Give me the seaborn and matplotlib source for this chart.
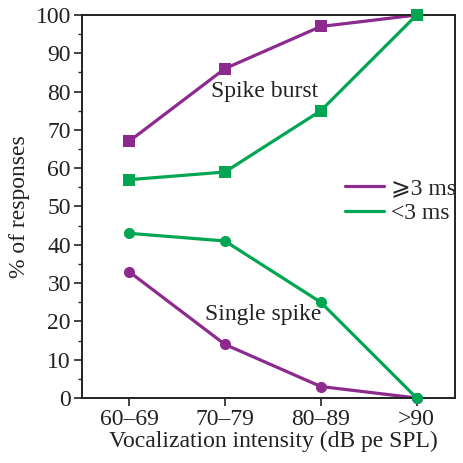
import matplotlib
matplotlib.use("Agg")
import matplotlib.pyplot as plt
import seaborn as sns
import pandas as pd
from matplotlib.ticker import MultipleLocator
from matplotlib.lines import Line2D

categories = ["60–69", "70–79", "80–89", ">90"]
burst_long = [67, 86, 97, 100]    # >=3 ms, spike burst
burst_short = [57, 59, 75, 100]   # <3 ms, spike burst
single_long = [33, 14, 3, 0]      # >=3 ms, single spike
single_short = [43, 41, 25, 0]    # <3 ms, single spike
labels = ["⩾3 ms", "<3 ms"]

sns.set_style("ticks")
plt.rcParams["font.family"] = ["Liberation Serif", "DejaVu Sans"]

purple = "#8C2A8E"
green = "#00A651"
txt = "#222222"
FS = 17

rows = []
for i, c in enumerate(categories):
    rows.append(dict(x=i, y=burst_long[i], dur=labels[0], kind="burst"))
    rows.append(dict(x=i, y=burst_short[i], dur=labels[1], kind="burst"))
    rows.append(dict(x=i, y=single_long[i], dur=labels[0], kind="single"))
    rows.append(dict(x=i, y=single_short[i], dur=labels[1], kind="single"))
df = pd.DataFrame(rows)

fig = plt.figure(figsize=(4.64, 4.63), dpi=100)
ax = fig.add_axes([0.1767, 0.1404, 0.8039, 0.8272])

palette = {labels[0]: purple, labels[1]: green}
for kind, marker in [("burst", "s"), ("single", "o")]:
    for dur in labels:
        sub = df[(df.kind == kind) & (df.dur == dur)]
        sns.lineplot(data=sub, x="x", y="y", color=palette[dur], marker=marker,
                     markersize=8, markeredgewidth=0, linewidth=2.3, ax=ax,
                     clip_on=False, zorder=3 if dur == labels[1] else 2,
                     legend=False)

ax.set_xlim(-0.49, 3.40)
ax.set_ylim(0, 100)
ax.set_xticks(range(len(categories)))
ax.set_xticklabels(categories)
ax.yaxis.set_major_locator(MultipleLocator(10))
ax.yaxis.set_minor_locator(MultipleLocator(5))
ax.tick_params(axis="both", which="major", labelsize=FS, length=6, width=1.2,
               direction="out", colors=txt, pad=2)
ax.tick_params(axis="y", which="minor", length=3, width=1.0, direction="out", colors=txt)
for s in ax.spines.values():
    s.set_linewidth(1.4)
    s.set_color(txt)
    s.set_visible(True)

ax.set_xlabel("Vocalization intensity (dB pe SPL)", fontsize=FS, color=txt, labelpad=3)
ax.xaxis.set_label_coords(0.514, -0.085)
ax.set_ylabel("% of responses", fontsize=FS, color=txt)
ax.yaxis.set_label_coords(-0.14, 0.5)

ax.text(1.41, 80, "Spike burst", fontsize=FS, ha="center", va="center", color=txt)
ax.text(1.40, 21.7, "Single spike", fontsize=FS, ha="center", va="center", color=txt)

handles = [Line2D([], [], color=purple, lw=2.3), Line2D([], [], color=green, lw=2.3)]
ax.legend(handles, labels, loc="center right", bbox_to_anchor=(1.029, 0.515), frameon=False,
          fontsize=FS, handlelength=1.65, handletextpad=0.3, labelspacing=0.15,
          borderaxespad=0.0)

fig.savefig("out.png", dpi=100)
